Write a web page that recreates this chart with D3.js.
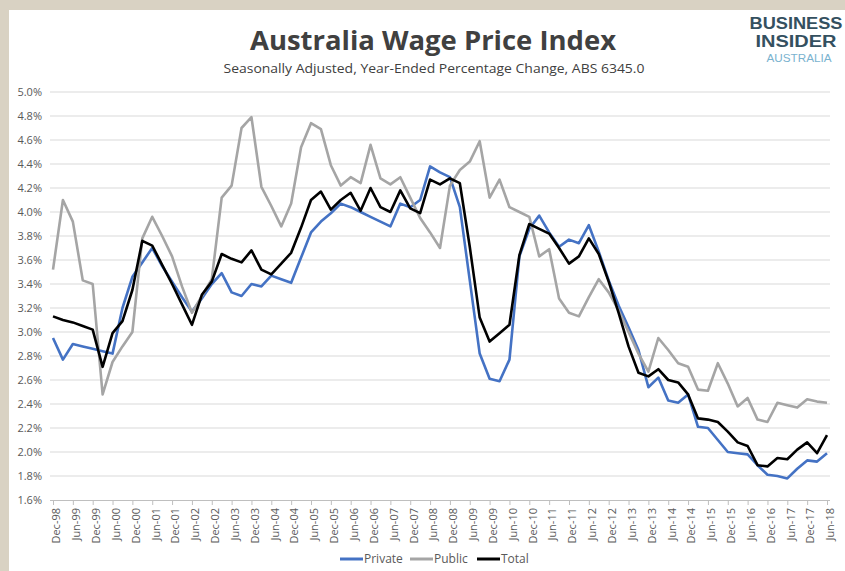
<!DOCTYPE html>
<html>
<head>
<meta charset="utf-8">
<script src="https://cdn.jsdelivr.net/npm/d3@7"></script>
<style>
  body { margin: 0; background: #fff; }
  svg { display: block; font-family: "Open Sans", sans-serif; }
</style>
</head>
<body>
<svg id="chart" width="845" height="571"></svg>
<script>
const quarters = ["Dec-98","Mar-99","Jun-99","Sep-99","Dec-99","Mar-00","Jun-00","Sep-00","Dec-00","Mar-01",
  "Jun-01","Sep-01","Dec-01","Mar-02","Jun-02","Sep-02","Dec-02","Mar-03","Jun-03","Sep-03",
  "Dec-03","Mar-04","Jun-04","Sep-04","Dec-04","Mar-05","Jun-05","Sep-05","Dec-05","Mar-06",
  "Jun-06","Sep-06","Dec-06","Mar-07","Jun-07","Sep-07","Dec-07","Mar-08","Jun-08","Sep-08",
  "Dec-08","Mar-09","Jun-09","Sep-09","Dec-09","Mar-10","Jun-10","Sep-10","Dec-10","Mar-11",
  "Jun-11","Sep-11","Dec-11","Mar-12","Jun-12","Sep-12","Dec-12","Mar-13","Jun-13","Sep-13",
  "Dec-13","Mar-14","Jun-14","Sep-14","Dec-14","Mar-15","Jun-15","Sep-15","Dec-15","Mar-16",
  "Jun-16","Sep-16","Dec-16","Mar-17","Jun-17","Sep-17","Dec-17","Mar-18","Jun-18"]

const privateWpi = [2.95,2.77,2.90,2.88,2.86,2.84,2.82,3.20,3.46,3.58,
  3.70,3.55,3.42,3.29,3.17,3.28,3.40,3.49,3.33,3.30,
  3.40,3.38,3.47,3.44,3.41,3.62,3.83,3.92,3.99,4.07,
  4.04,4.00,3.96,3.92,3.88,4.07,4.04,4.10,4.38,4.33,
  4.29,4.04,3.43,2.82,2.61,2.59,2.77,3.63,3.86,3.97,
  3.83,3.71,3.77,3.74,3.89,3.67,3.43,3.22,3.04,2.85,
  2.54,2.62,2.43,2.41,2.48,2.21,2.20,2.10,2.00,1.99,
  1.98,1.89,1.81,1.80,1.78,1.86,1.93,1.92,1.99]

const publicWpi = [3.52,4.10,3.92,3.43,3.40,2.48,2.75,2.88,3.00,3.78,
  3.96,3.80,3.63,3.38,3.16,3.30,3.44,4.12,4.22,4.70,
  4.79,4.21,4.05,3.88,4.07,4.54,4.74,4.69,4.39,4.22,
  4.29,4.24,4.56,4.28,4.23,4.29,4.12,3.95,3.83,3.70,
  4.22,4.35,4.42,4.59,4.12,4.27,4.04,4.00,3.96,3.63,
  3.69,3.28,3.16,3.13,3.29,3.44,3.33,3.18,3.00,2.82,
  2.67,2.95,2.85,2.74,2.71,2.52,2.51,2.74,2.57,2.38,
  2.45,2.27,2.25,2.41,2.39,2.37,2.44,2.42,2.41]

const totalWpi = [3.13,3.10,3.08,3.05,3.02,2.71,2.99,3.09,3.35,3.76,
  3.72,3.56,3.40,3.23,3.06,3.31,3.42,3.65,3.61,3.58,
  3.68,3.52,3.48,3.57,3.66,3.87,4.10,4.17,4.02,4.10,
  4.16,4.01,4.20,4.04,4.00,4.18,4.03,3.99,4.27,4.23,
  4.28,4.24,3.71,3.12,2.92,2.99,3.06,3.64,3.90,3.86,
  3.82,3.70,3.57,3.63,3.78,3.65,3.42,3.16,2.88,2.66,
  2.63,2.69,2.60,2.58,2.48,2.28,2.27,2.25,2.17,2.08,
  2.05,1.89,1.88,1.95,1.94,2.02,2.08,1.99,2.14]

const yTicks = [1.6,1.8,2.0,2.2,2.4,2.6,2.8,3.0,3.2,3.4,3.6,3.8,4.0,4.2,4.4,4.6,4.8,5.0]

const seriesList = [
  { name: "Private", values: privateWpi, color: "#4472c4" },
  { name: "Public", values: publicWpi, color: "#a5a5a5" },
  { name: "Total", values: totalWpi, color: "#000000" }
]

const svg = d3.select("#chart")
const W = 845, H = 571

// beige frame round the white card
svg.append("rect").attr("width", W).attr("height", H).attr("fill", "#d9d2c3")
svg.append("rect").attr("x", 9).attr("y", 10).attr("width", W - 9).attr("height", H - 10).attr("fill", "#fff")

svg.append("text")
  .attr("x", 433).attr("y", 50)
  .attr("text-anchor", "middle")
  .attr("font-size", "27px").attr("font-weight", "bold")
  .attr("fill", "#404040")
  .attr("textLength", 366).attr("lengthAdjust", "spacingAndGlyphs")
  .text("Australia Wage Price Index")

svg.append("text")
  .attr("x", 434).attr("y", 73)
  .attr("text-anchor", "middle")
  .attr("font-size", "13.5px")
  .attr("fill", "#404040")
  .attr("textLength", 421).attr("lengthAdjust", "spacingAndGlyphs")
  .text("Seasonally Adjusted, Year-Ended Percentage Change, ABS 6345.0")

// logo
const logo = svg.append("g")
  .attr("font-family", "Liberation Sans, Arial, sans-serif")
  .attr("font-weight", "bold").attr("text-anchor", "middle")
logo.append("text").attr("x", 796).attr("y", 29).attr("font-size", "16px").attr("fill", "#34505f")
  .attr("textLength", 93).attr("lengthAdjust", "spacingAndGlyphs").text("BUSINESS")
logo.append("text").attr("x", 796).attr("y", 47).attr("font-size", "16px").attr("fill", "#34505f")
  .attr("textLength", 81).attr("lengthAdjust", "spacingAndGlyphs").text("INSIDER")
logo.append("text").attr("x", 799).attr("y", 62).attr("font-size", "10px").attr("fill", "#7ab3cf")
  .attr("font-weight", "normal")
  .attr("textLength", 65).attr("lengthAdjust", "spacingAndGlyphs").text("AUSTRALIA")

const x = d3.scalePoint()
  .domain(quarters)
  .range([53, 827])

const y = d3.scaleLinear()
  .domain([1.6, 5.0])
  .range([500, 92])

// gridlines
svg.append("g")
  .selectAll("line")
  .data(yTicks.slice(1))
  .join("line")
    .attr("x1", 50).attr("x2", 830)
    .attr("y1", d => y(d)).attr("y2", d => y(d))
    .attr("stroke", "#d9d9d9").attr("stroke-width", 1)

// y axis labels
svg.append("g")
  .selectAll("text")
  .data(yTicks)
  .join("text")
    .attr("x", 42).attr("y", d => y(d))
    .attr("dy", "0.35em")
    .attr("text-anchor", "end")
    .attr("font-size", "11px")
    .attr("fill", "#595959")
    .text(d => d.toFixed(1) + "%")

// x axis
const labelled = quarters.filter((q, i) => i % 2 === 0)
const xAxis = svg.append("g")
  .attr("transform", "translate(0,500)")
  .call(d3.axisBottom(x).tickValues(labelled).tickSize(5).tickSizeOuter(0))
xAxis.select(".domain").attr("stroke", "#bfbfbf").attr("d", "M50,0.5H830")
xAxis.selectAll(".tick line").attr("stroke", "#bfbfbf")
xAxis.selectAll(".tick text")
  .attr("transform", "rotate(-90)")
  .attr("text-anchor", "end")
  .attr("x", -8).attr("y", 0)
  .attr("dy", "0.62em")
  .attr("font-family", "Open Sans, sans-serif")
  .attr("font-size", "11px")
  .attr("fill", "#595959")

const line = d3.line()
  .x((d, i) => x(quarters[i]))
  .y(d => y(d))

svg.append("g")
  .selectAll("path")
  .data(seriesList)
  .join("path")
    .attr("d", d => line(d.values))
    .attr("fill", "none")
    .attr("stroke", d => d.color)
    .attr("stroke-width", 2.6)
    .attr("stroke-linejoin", "round")

// legend
const legendX = [340, 410, 477]
const legend = svg.append("g")
  .selectAll("g")
  .data(seriesList)
  .join("g")
    .attr("transform", (d, i) => `translate(${legendX[i]},559)`)
legend.append("line")
  .attr("x1", 0).attr("x2", 23)
  .attr("stroke", d => d.color).attr("stroke-width", 3)
legend.append("text")
  .attr("x", 24).attr("dy", "0.35em")
  .attr("font-size", "12px")
  .attr("fill", "#595959")
  .text(d => d.name)
</script>
</body>
</html>
